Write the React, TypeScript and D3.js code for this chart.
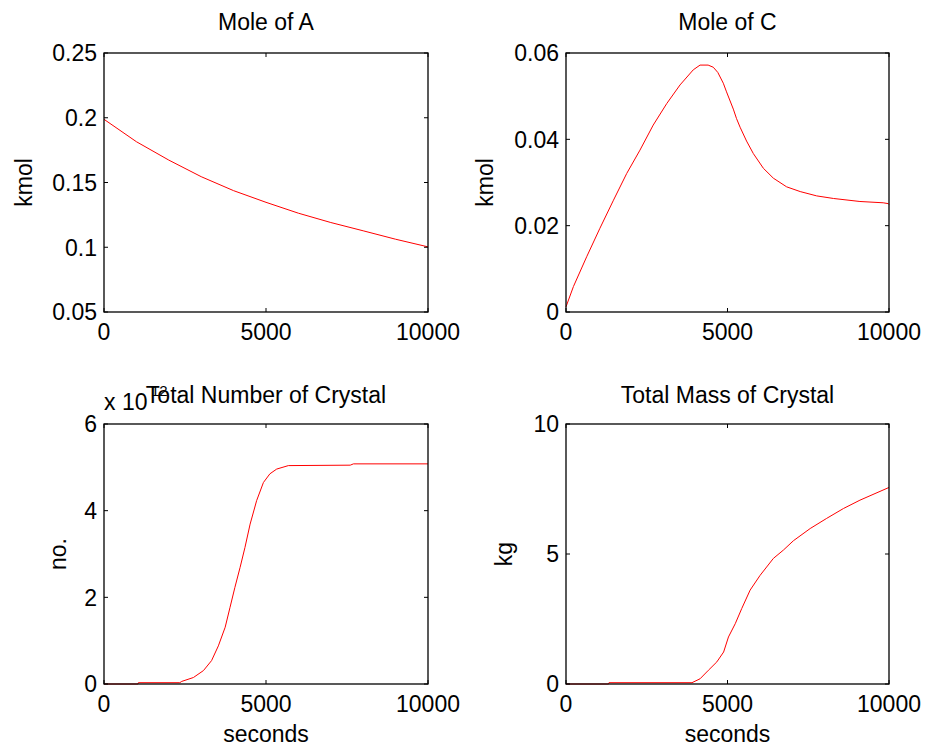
import React from "react";
import * as d3 from "d3";

// ---- data ----
const timeA = [0, 1000, 2000, 3000, 4000, 5000, 6000, 7000, 8000, 9000, 10000];
const moleA = [0.1988, 0.1815, 0.1673, 0.1545, 0.1437, 0.1347, 0.1263, 0.1191, 0.1127, 0.1062, 0.1003];

const timeC = [0, 230, 640, 1050, 1470, 1880, 2290, 2700, 3120, 3530, 3940, 4150, 4400, 4560, 4700, 4870, 4970, 5180, 5280, 5390, 5590, 5800, 6110, 6420, 6830, 7250, 7760, 8280, 9100, 9820, 9980, 10000];
const moleC = [0.0012, 0.0059, 0.0128, 0.0194, 0.0259, 0.0321, 0.0375, 0.0433, 0.0483, 0.0526, 0.0561, 0.0572, 0.0572, 0.0567, 0.0555, 0.0530, 0.0510, 0.0470, 0.0448, 0.0428, 0.0396, 0.0367, 0.0333, 0.031, 0.029, 0.0279, 0.0269, 0.0263, 0.0256, 0.0253, 0.0251, 0.0249];

const timeN = [0, 1050, 1060, 2340, 2400, 2760, 3070, 3320, 3530, 3740, 3890, 4040, 4200, 4350, 4510, 4710, 4920, 5120, 5330, 5690, 7600, 7700, 10000];
const numberN = [0, 0, 0.03, 0.03, 0.06, 0.15, 0.31, 0.54, 0.88, 1.31, 1.77, 2.23, 2.69, 3.15, 3.69, 4.23, 4.65, 4.85, 4.96, 5.04, 5.05, 5.08, 5.08];

const timeM = [0, 1320, 1330, 3900, 4150, 4410, 4670, 4880, 5030, 5240, 5440, 5700, 6010, 6420, 6730, 7040, 7560, 8070, 8590, 9100, 10000];
const massM = [0, 0, 0.05, 0.05, 0.2, 0.53, 0.85, 1.23, 1.81, 2.32, 2.9, 3.61, 4.18, 4.83, 5.15, 5.51, 5.98, 6.37, 6.75, 7.07, 7.56];

const xTicks = [0, 5000, 10000];
const yTicksA = [0.05, 0.1, 0.15, 0.2, 0.25];
const yTicksC = [0, 0.02, 0.04, 0.06];
const yTicksN = [0, 2, 4, 6];
const yTicksM = [0, 5, 10];

const titles = ["Mole of A", "Mole of C", "Total Number of Crystal", "Total Mass of Crystal"];
const yLabels = ["kmol", "kmol", "no.", "kg"];
const xLabel = "seconds";

const FONT = "'Liberation Sans', Arial, Helvetica, sans-serif";
const FS = 23;

type PanelProps = {
  left: number; right: number; top: number; bottom: number;
  yDomain: [number, number]; yTicks: number[];
  xs: number[]; ys: number[];
  title: string; titleY: number; yLabel: string; yLabelX: number;
  showXLabel: boolean;
};

function Panel(p: PanelProps) {
  const x = d3.scaleLinear().domain([0, 10000]).range([p.left, p.right]);
  const y = d3.scaleLinear().domain(p.yDomain).range([p.bottom, p.top]);
  const line = d3.line<number>().x((_, i) => x(p.xs[i])).y((d) => y(d));
  const path = line(p.ys) || "";
  const tk = 4;
  const cx = (p.left + p.right) / 2;
  const cy = (p.top + p.bottom) / 2;
  const fmt = (v: number) => String(v);
  return (
    <g>
      <rect x={p.left} y={p.top} width={p.right - p.left} height={p.bottom - p.top} fill="#fff" />
      <path d={path} fill="none" stroke="#ff0000" strokeWidth={1} />
      {xTicks.map((t) => (
        <g key={"x" + t}>
          <line x1={x(t)} x2={x(t)} y1={p.bottom} y2={p.bottom - tk} stroke="#000" />
          <line x1={x(t)} x2={x(t)} y1={p.top} y2={p.top + tk} stroke="#000" />
          <text x={x(t)} y={p.bottom + 28} textAnchor="middle" fontSize={FS} fontFamily={FONT} fill="#000">{fmt(t)}</text>
        </g>
      ))}
      {p.yTicks.map((t) => (
        <g key={"y" + t}>
          <line x1={p.left} x2={p.left + tk} y1={y(t)} y2={y(t)} stroke="#000" />
          <line x1={p.right} x2={p.right - tk} y1={y(t)} y2={y(t)} stroke="#000" />
          <text x={p.left - 7} y={y(t)} dy="0.36em" textAnchor="end" fontSize={FS} fontFamily={FONT} fill="#000">{fmt(t)}</text>
        </g>
      ))}
      <rect x={p.left} y={p.top} width={p.right - p.left} height={p.bottom - p.top} fill="none" stroke="#000" strokeWidth={1.3} />
      <text x={cx} y={p.titleY} textAnchor="middle" fontSize={FS} fontFamily={FONT} fill="#000">{p.title}</text>
      <text transform={`translate(${p.yLabelX},${cy}) rotate(-90)`} textAnchor="middle" fontSize={FS} fontFamily={FONT} fill="#000">{p.yLabel}</text>
      {p.showXLabel && (
        <text x={cx} y={p.bottom + 58} textAnchor="middle" fontSize={FS} fontFamily={FONT} fill="#000">{xLabel}</text>
      )}
    </g>
  );
}

export default function App() {
  const L1 = 104, R1 = 428, L2 = 566, R2 = 889;
  const T1 = 53, B1 = 312, T2 = 424, B2 = 684;
  return (
    <svg width={927} height={749} style={{ position: "absolute", left: 0, top: 0, background: "#fff" }}>
      <rect x={0} y={0} width={927} height={749} fill="#fff" />
      <Panel left={L1} right={R1} top={T1} bottom={B1} yDomain={[0.05, 0.25]} yTicks={yTicksA}
        xs={timeA} ys={moleA} title={titles[0]} titleY={30} yLabel={yLabels[0]} yLabelX={32} showXLabel={false} />
      <Panel left={L2} right={R2} top={T1} bottom={B1} yDomain={[0, 0.06]} yTicks={yTicksC}
        xs={timeC} ys={moleC} title={titles[1]} titleY={30} yLabel={yLabels[1]} yLabelX={493} showXLabel={false} />
      <Panel left={L1} right={R1} top={T2} bottom={B2} yDomain={[0, 6]} yTicks={yTicksN}
        xs={timeN} ys={numberN} title={titles[2]} titleY={403} yLabel={yLabels[2]} yLabelX={66} showXLabel={true} />
      <Panel left={L2} right={R2} top={T2} bottom={B2} yDomain={[0, 10]} yTicks={yTicksM}
        xs={timeM} ys={massM} title={titles[3]} titleY={403} yLabel={yLabels[3]} yLabelX={512} showXLabel={true} />
      <text x={104} y={410} fontSize={FS} fontFamily={FONT} fill="#000">x 10</text>
      <text x={151} y={396} fontSize={15} fontFamily={FONT} fill="#000">12</text>
    </svg>
  );
}
